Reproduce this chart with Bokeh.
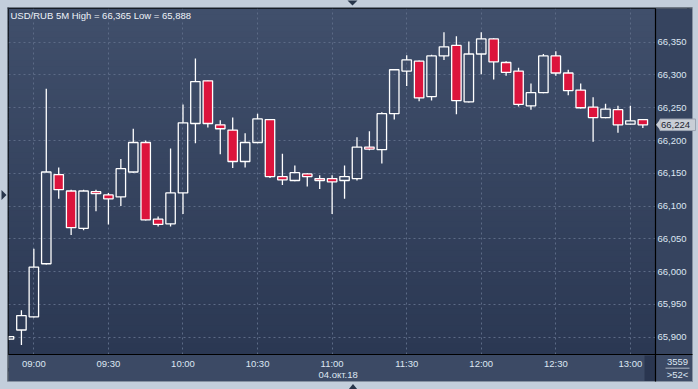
import numpy as np
from bokeh.plotting import figure
from bokeh.models import (Range1d, LinearAxis, FixedTicker, BoxAnnotation, Label,
                          Grid, CustomJSTickFormatter, ColumnDataSource)
from bokeh.core.properties import value
from bokeh.embed import file_html
from bokeh.resources import INLINE

# ---------------- data ----------------
symbol = "USD/RUB"
period = "5M"
session_date = "04.окт.18"
counter_text = "3559"

times = ["08:50", "08:55", "09:00", "09:05", "09:10", "09:15", "09:20", "09:25", "09:30", "09:35",
         "09:40", "09:45", "09:50", "09:55", "10:00", "10:05", "10:10", "10:15", "10:20", "10:25",
         "10:30", "10:35", "10:40", "10:45", "10:50", "10:55", "11:00", "11:05", "11:10", "11:15",
         "11:20", "11:25", "11:30", "11:35", "11:40", "11:45", "11:50", "11:55", "12:00", "12:05",
         "12:10", "12:15", "12:20", "12:25", "12:30", "12:35", "12:40", "12:45", "12:50", "12:55",
         "13:00", "13:05"]
opens = [65.897, 65.911, 65.931, 66.012, 66.148, 66.123, 66.066, 66.122, 66.117, 66.114,
         66.152, 66.197, 66.080, 66.073, 66.120, 66.226, 66.291, 66.224, 66.216, 66.168,
         66.197, 66.232, 66.145, 66.139, 66.149, 66.142, 66.142, 66.139, 66.142, 66.190,
         66.186, 66.241, 66.306, 66.321, 66.267, 66.329, 66.345, 66.259, 66.332, 66.355,
         66.319, 66.306, 66.253, 66.273, 66.329, 66.303, 66.277, 66.251, 66.235, 66.247,
         66.225, 66.232]
highs = [65.902, 65.941, 66.035, 66.279, 66.159, 66.125, 66.125, 66.125, 66.120, 66.172,
         66.218, 66.200, 66.084, 66.188, 66.255, 66.325, 66.292, 66.231, 66.235, 66.211,
         66.241, 66.233, 66.180, 66.162, 66.150, 66.147, 66.147, 66.162, 66.205, 66.214,
         66.243, 66.309, 66.330, 66.322, 66.331, 66.365, 66.359, 66.351, 66.365, 66.356,
         66.321, 66.311, 66.287, 66.332, 66.336, 66.308, 66.287, 66.266, 66.256, 66.253,
         66.253, 66.233]
lows = [65.896, 65.888, 65.930, 66.011, 66.111, 66.056, 66.063, 66.092, 66.072, 66.100,
        66.151, 66.078, 66.069, 66.069, 66.088, 66.196, 66.220, 66.179, 66.158, 66.159,
        66.196, 66.143, 66.132, 66.138, 66.130, 66.126, 66.088, 66.111, 66.139, 66.185,
        66.165, 66.232, 66.283, 66.260, 66.261, 66.323, 66.240, 66.258, 66.301, 66.293,
        66.299, 66.252, 66.247, 66.272, 66.299, 66.269, 66.249, 66.198, 66.234, 66.212,
        66.224, 66.219]
closes = [65.901, 65.933, 66.007, 66.152, 66.125, 66.067, 66.123, 66.119, 66.111, 66.157,
          66.197, 66.079, 66.072, 66.120, 66.227, 66.290, 66.226, 66.218, 66.168, 66.197,
          66.233, 66.145, 66.140, 66.151, 66.145, 66.139, 66.137, 66.145, 66.190, 66.187,
          66.241, 66.308, 66.323, 66.265, 66.329, 66.343, 66.261, 66.332, 66.355, 66.320,
          66.304, 66.255, 66.273, 66.329, 66.303, 66.276, 66.250, 66.235, 66.248, 66.224,
          66.230, 66.224]

time_ticks = ["09:00", "09:30", "10:00", "10:30", "11:00", "11:30", "12:00", "12:30", "13:00"]
price_ticks = ["65,900", "65,950", "66,000", "66,050", "66,100", "66,150",
               "66,200", "66,250", "66,300", "66,350"]


def to_min(s):
    hh, mm = s.split(":")
    return (int(hh) - 9) * 60 + int(mm)


def fmt(v):
    return f"{v:.3f}".replace(".", ",")


x = np.array([to_min(t) for t in times], dtype=float)
o = np.array(opens)
h = np.array(highs)
l = np.array(lows)
c = np.array(closes)
up = c >= o
btop = np.maximum(o, c)
bbot = np.minimum(o, c)

tick_x = [float(to_min(t)) for t in time_ticks]
tick_y = [float(s.replace(",", ".")) for s in price_ticks]

FONT = "Liberation Sans"
FS = "9.5px"
LABEL_COL = "#dde6f2"
RPANEL = "#36445f"
BPANEL = "#3c4a65"
FRAME = "#c3cedb"

p = figure(width=698, height=389,
           x_range=Range1d(-10.2, 250.1), y_range=Range1d(65.8736, 66.4014),
           output_backend="svg", toolbar_location=None,
           x_axis_location=None, y_axis_location=None,
           min_border_left=8, min_border_right=43, min_border_top=8, min_border_bottom=35,
           border_fill_color=FRAME, background_fill_color="#35435e",
           outline_line_color="#000000", outline_line_width=1)
for g in p.grid:
    g.visible = False
# pixel-like helper ranges for the decorations around the chart frame
p.extra_x_ranges = {"px": Range1d(8, 655)}
p.extra_y_ranges = {"py": Range1d(354, 8)}

# gradient background of the chart area
N = 60
top_rgb = np.array([64, 79, 107])
bot_rgb = np.array([43, 56, 83])
y0, y1 = 8.0, 354.0
for i in range(N):
    f = i / (N - 1)
    col = tuple(int(round(v)) for v in top_rgb + (bot_rgb - top_rgb) * f)
    hexc = "#%02x%02x%02x" % col
    a = y0 + (y1 - y0) * i / N
    b = y0 + (y1 - y0) * (i + 1) / N + 0.6
    p.add_layout(BoxAnnotation(left=8, right=655, top=a, bottom=b,
                               left_units="canvas", right_units="canvas",
                               top_units="canvas", bottom_units="canvas",
                               fill_color=hexc, fill_alpha=1, line_alpha=0, level="image"))

# grids
p.add_layout(Grid(dimension=0, ticker=FixedTicker(ticks=tick_x),
                  grid_line_color="#5c6b86", grid_line_dash="2 3", grid_line_width=1))
p.add_layout(Grid(dimension=1, ticker=FixedTicker(ticks=tick_y),
                  grid_line_color="#5c6b86", grid_line_dash="2 3", grid_line_width=1))

# axes
yaxis = LinearAxis(ticker=FixedTicker(ticks=tick_y),
                   formatter=CustomJSTickFormatter(args=dict(t=tick_y, lab=price_ticks),
                                                   code="const i = t.indexOf(tick); return i >= 0 ? lab[i] : '';"),
                   axis_line_color=None, major_tick_line_color=None, minor_tick_line_color=None,
                   major_tick_in=0, major_tick_out=0, minor_tick_in=0, minor_tick_out=0,
                   major_label_standoff=2, major_label_text_font=FONT,
                   major_label_text_font_size=FS, major_label_text_color=LABEL_COL)
xaxis = LinearAxis(ticker=FixedTicker(ticks=tick_x),
                   formatter=CustomJSTickFormatter(args=dict(t=tick_x, lab=time_ticks),
                                                   code="const i = t.indexOf(tick); return i >= 0 ? lab[i] : '';"),
                   axis_line_color=None, major_tick_line_color=None, minor_tick_line_color=None,
                   major_tick_in=0, major_tick_out=0, minor_tick_in=0, minor_tick_out=0,
                   major_label_standoff=3, major_label_text_font=FONT,
                   major_label_text_font_size=FS, major_label_text_color=LABEL_COL)
for ax, col in ((xaxis, BPANEL), (yaxis, RPANEL)):
    try:
        ax.background_fill_color = col
    except Exception:
        pass
p.add_layout(yaxis, "right")
p.add_layout(xaxis, "below")

# candles
wick_src = ColumnDataSource(dict(x=np.concatenate([x, x]),
                                 y0=np.concatenate([h, bbot]),
                                 y1=np.concatenate([btop, l])))
p.segment(x0="x", y0="y0", x1="x", y1="y1", source=wick_src, line_color="white", line_width=1.3)

up_src = ColumnDataSource(dict(x=x[up], top=btop[up], bottom=bbot[up]))
dn_src = ColumnDataSource(dict(x=x[~up], top=btop[~up], bottom=bbot[~up]))
p.vbar(x="x", width=3.8, top="top", bottom="bottom", source=up_src,
       fill_alpha=0, line_color="white", line_width=1.3)
p.vbar(x="x", width=3.8, top="top", bottom="bottom", source=dn_src,
       fill_color="#dc143c", line_color="white", line_width=1.3)

# title text (inside the frame)
title = f"{symbol} {period} High = {fmt(h.max())} Low = {fmt(l.min())}"
p.add_layout(Label(x=10, y=15, x_units="canvas", y_units="canvas", text=title,
                   text_font=FONT, text_font_size=FS, text_color="#eef2f8",
                   text_baseline="middle", text_align="left"))

# ---------- decorations outside the frame (overlay level, pixel helper ranges) ----------
PX = dict(x_range_name="px", y_range_name="py", level="overlay")


def pquad(left, right, top, bottom, color):
    p.quad(left=[left], right=[right], top=[top], bottom=[bottom],
           fill_color=color, line_color=None, **PX)


pquad(8, 692, 367.5, 381, BPANEL)        # lower part of the time scale strip
pquad(655, 692, 354, 381, BPANEL)        # corner under price scale
pquad(644, 655, 355, 381, "#2a3650")     # scroll marker
pquad(686.5, 692, 8, 354, RPANEL)        # price panel up to its edge
# light outer frame
pquad(-10, 710, -10, 7, FRAME)
pquad(-10, 710, 381, 400, FRAME)
pquad(-10, 7, -10, 400, FRAME)
pquad(692, 710, -10, 400, FRAME)
# frame edge lines
pquad(7, 8, 7, 381, "#1e2633")
pquad(7, 692, 7, 8, "#1e2633")
pquad(691.5, 692.5, 7, 381.5, "#8792a2")
pquad(7, 692.5, 380.5, 381.5, "#8792a2")
pquad(654.4, 655.6, 8, 381, "#000000")
pquad(8, 692, 353.5, 354.6, "#000000")

# session date under the time scale
p.text(x=[318], y=[373.5], text=[session_date], text_font=value(FONT), text_font_size=FS,
       text_color=LABEL_COL, text_baseline="middle", text_align="left", **PX)

# counters at bottom right
p.text(x=[677, 677], y=[361.5, 373.5], text=[counter_text, f">{len(times)}<"],
       text_font=value(FONT), text_font_size=FS, text_color=LABEL_COL,
       text_baseline="middle", text_align="center", **PX)
p.segment(x0=[665], x1=[689], y0=[367.7], y1=[367.7], line_color="#aab4c2", line_width=1, **PX)

# last price marker
last = closes[-1]
half = 0.0088
LP = dict(x_range_name="px", level="overlay")
p.quad(left=[659.5], right=[695], top=[last + half], bottom=[last - half],
       fill_color="#c9ced6", line_color="#9aa3b0", line_width=1, **LP)
p.patch(x=[655.5, 660, 660], y=[last, last + half, last - half],
        fill_color="#c9ced6", line_color=None, **LP)
p.text(x=[660.5], y=[last], text=[fmt(last)], text_font=value(FONT), text_font_size=FS,
       text_color="#1c2330", text_baseline="middle", text_align="left", **LP)

# resize handles
for xs, ys in (([347, 357, 352], [0, 0, 5]),
               ([348, 357, 352.5], [389, 389, 383.5]),
               ([1, 1, 6], [189.5, 199.5, 194.5])):
    p.patch(x=xs, y=ys, fill_color="#27354a", line_color=None, **PX)

open("out.html", "w").write(file_html(p, INLINE))
